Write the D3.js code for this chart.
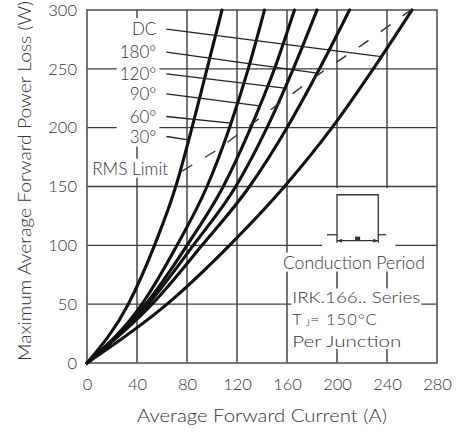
<!DOCTYPE html>
<html>
<head>
<meta charset="utf-8">
<script src="https://cdn.jsdelivr.net/npm/d3@7/dist/d3.min.js"></script>
<style>
  html, body { margin: 0; padding: 0; background: #fff; }
  svg { display: block; font-family: Lato, "DejaVu Sans", sans-serif; font-weight: 300; }
</style>
</head>
<body>
<svg id="chart" width="456" height="433"></svg>
<script>
// Power levels (W) at which the current of each curve is tabulated
const powerLevels = [0, 50, 100, 150, 200, 250, 300];

// Average forward current (A) reaching each power level, per conduction angle
const curveNames = ["30°", "60°", "90°", "120°", "180°", "DC"];
const current30  = [0, 33, 54, 71, 84, 96, 108];
const current60  = [0, 44, 72, 96, 114, 129, 142];
const current90  = [0, 47, 80, 109, 131, 150, 166];
const current120 = [0, 49, 85, 119, 144, 165, 184];
const current180 = [0, 52, 92, 130, 160, 186, 210];
const currentDC  = [0, 64, 114, 158, 196, 229, 260];

// RMS current limit line
const rmsCurrent = [76, 104, 128, 158, 189, 221, 259];
const rmsPower   = [163, 181, 200, 224, 248, 271, 300];

// Curve labels: power level of each label and where its leader meets the curve
const labelPower  = [192.5, 209.5, 228.8, 245.8, 264.2, 283.8];
const leaderEndP  = [189.7, 203.9, 218.6, 233.6, 246.4, 260.4];
const labelCurrent = 55.5;
const leaderStartCurrent = 63.5;

// Axis ticks
const xTicks = [0, 40, 80, 120, 160, 200, 240, 280];
const yTicks = [0, 50, 100, 150, 200, 250, 300];

// Conduction-period pulse (current span and power levels of top, base, dimension line)
const pulseCurrent = [200, 233];
const pulsePower = [143, 109, 104];

const series = [current30, current60, current90, current120, current180, currentDC];

(function draw() {
const svg = d3.select("#chart");
const plot = { left: 87, right: 437, top: 10, bottom: 363 };
const x = d3.scaleLinear().domain([0, 280]).range([plot.left, plot.right]);
const y = d3.scaleLinear().domain([0, 300]).range([plot.bottom, plot.top]);

const gridColor = "#3c3c3c";
const textColor = "#333";
const fontSize = 16.5;

// Grid
const grid = svg.append("g");
grid.selectAll("line.v").data(xTicks.slice(1, -1)).join("line")
  .attr("x1", d => x(d)).attr("x2", d => x(d))
  .attr("y1", y(0)).attr("y2", y(300))
  .attr("stroke", gridColor).attr("stroke-width", 1.4);
grid.selectAll("line.h").data(yTicks.slice(1, -1)).join("line")
  .attr("x1", x(0)).attr("x2", x(280))
  .attr("y1", d => y(d)).attr("y2", d => y(d))
  .attr("stroke", gridColor).attr("stroke-width", 1.4);

// Layer for white backings behind annotation text
const backing = svg.append("g");

// Frame
svg.append("rect")
  .attr("x", x(0)).attr("y", y(300))
  .attr("width", x(280) - x(0)).attr("height", y(0) - y(300))
  .attr("fill", "none").attr("stroke", "#555").attr("stroke-width", 1.6);

// Axes tick labels
const xAxis = d3.axisBottom(x).tickValues(xTicks).tickSize(0).tickPadding(15).tickFormat(d3.format("d"));
const yAxis = d3.axisLeft(y).tickValues(yTicks).tickSize(0).tickPadding(10).tickFormat(d3.format("d"));
const gx = svg.append("g").attr("transform", `translate(0,${plot.bottom})`).call(xAxis);
const gy = svg.append("g").attr("transform", `translate(${plot.left},0)`).call(yAxis);
[gx, gy].forEach(g => {
  g.select(".domain").remove();
  g.selectAll("text").attr("font-family", "Lato, 'DejaVu Sans', sans-serif")
    .attr("font-weight", 300).attr("font-size", fontSize).attr("fill", textColor);
});

// Axis titles
svg.append("text")
  .attr("x", (plot.left + plot.right) / 2).attr("y", 422)
  .attr("text-anchor", "middle").attr("font-size", 18.5).attr("fill", textColor)
  .attr("textLength", 250).attr("lengthAdjust", "spacingAndGlyphs")
  .text("Average Forward Current (A)");
svg.append("text")
  .attr("transform", `translate(31,181) rotate(-90)`)
  .attr("text-anchor", "middle").attr("font-size", 18.5).attr("fill", textColor)
  .attr("textLength", 360).attr("lengthAdjust", "spacingAndGlyphs")
  .text("Maximum Average Forward Power Loss (W)");

// Loss curves
const line = d3.line().x(d => x(d[0])).y(d => y(d[1])).curve(d3.curveMonotoneX);
svg.append("g").selectAll("path").data(series).join("path")
  .attr("d", s => line(s.map((c, i) => [c, powerLevels[i]])))
  .attr("fill", "none").attr("stroke", "#111").attr("stroke-width", 3.1)
  .attr("stroke-linecap", "round");

// RMS limit (dashed)
svg.append("path")
  .attr("d", d3.line().x(d => x(d[0])).y(d => y(d[1]))(rmsCurrent.map((c, i) => [c, rmsPower[i]])))
  .attr("fill", "none").attr("stroke", "#333").attr("stroke-width", 1.4)
  .attr("stroke-dasharray", "12,15");

// Curve labels and leaders
const labelG = svg.append("g");
const labels = labelG.selectAll("text").data(curveNames).join("text")
  .attr("x", x(labelCurrent)).attr("y", (d, i) => y(labelPower[i]))
  .attr("dy", "0.36em").attr("text-anchor", "end")
  .attr("font-size", 17).attr("fill", textColor)
  .text(d => d);
labelG.selectAll("line").data(series).join("line")
  .attr("x1", x(leaderStartCurrent)).attr("y1", (s, i) => y(labelPower[i]))
  .attr("x2", (s, i) => x(d3.scaleLinear().domain(powerLevels).range(s)(leaderEndP[i])))
  .attr("y2", (s, i) => y(leaderEndP[i]))
  .attr("stroke", "#222").attr("stroke-width", 1.3);

// RMS limit label
const rmsLabel = svg.append("text")
  .attr("x", x(34.5)).attr("y", y(160))
  .attr("text-anchor", "middle").attr("font-size", 17).attr("fill", textColor)
  .attr("textLength", 76).attr("lengthAdjust", "spacingAndGlyphs")
  .text("RMS Limit");

// Conduction period pulse symbol
const sym = svg.append("g").attr("stroke", "#333").attr("stroke-width", 1.3).attr("fill", "none");
const [p0, p1] = pulseCurrent.map(x);
const [pTop, pBase, pDim] = pulsePower.map(y);
sym.append("path").attr("d", `M${p0},${pDim + 2}V${pTop}H${p1}V${pDim + 2}`);
sym.append("line").attr("x1", p0 - 10).attr("x2", p0).attr("y1", pBase).attr("y2", pBase);
sym.append("line").attr("x1", p1).attr("x2", p1 + 8).attr("y1", pBase).attr("y2", pBase);
sym.append("line").attr("x1", p0).attr("x2", p1).attr("y1", pDim).attr("y2", pDim);
sym.append("path").attr("fill", "#333").attr("stroke", "none")
  .attr("d", `M${p0},${pDim}l5,-2v4z M${p1},${pDim}l-5,-2v4z`);
sym.append("rect").attr("x", (p0 + p1) / 2 - 2.5).attr("y", pDim - 4).attr("width", 5).attr("height", 4)
  .attr("fill", "#333").attr("stroke", "none");

const condText = svg.append("text")
  .attr("x", x(213.5)).attr("y", 268.5)
  .attr("text-anchor", "middle").attr("font-size", 17).attr("fill", textColor)
  .attr("textLength", 142).attr("lengthAdjust", "spacingAndGlyphs")
  .text("Conduction Period");

// Device info block
const info = svg.append("g").attr("font-size", 16.5).attr("fill", textColor);
const infoX = x(163) + 1.5;
info.append("text").attr("x", infoX).attr("y", 302.5)
  .attr("textLength", 128).attr("lengthAdjust", "spacingAndGlyphs")
  .text("IRK.166.. Series");
const tj = info.append("text").attr("x", infoX).attr("y", 325);
tj.append("tspan").text("T");
tj.append("tspan").attr("dx", 4).attr("dy", 1).attr("font-size", 10).text("J");
tj.append("tspan").attr("dy", -1).attr("letter-spacing", 1).text("= 150°C");
info.append("text").attr("x", infoX).attr("y", 347)
  .attr("textLength", 109).attr("lengthAdjust", "spacingAndGlyphs")
  .text("Per Junction");

// White backings sized from rendered text
function pad(b, px, py) { return { x: b.x - px, y: b.y - py, w: b.width + 2 * px, h: b.height + 2 * py }; }
function union(nodes) {
  const bs = nodes.map(n => n.getBBox());
  const x0 = d3.min(bs, b => b.x), y0 = d3.min(bs, b => b.y);
  const x1 = d3.max(bs, b => b.x + b.width), y1 = d3.max(bs, b => b.y + b.height);
  return { x: x0, y: y0, width: x1 - x0, height: y1 - y0 };
}
const backs = [
  pad(union(labels.nodes()), 3, 0),
  pad(rmsLabel.node().getBBox(), 2, -1),
  pad(condText.node().getBBox(), 2, -1),
  pad(union(info.selectAll("text").nodes()), 1, -2),
  { x: p0 - 15, y: y(150) + 1.5, w: (p1 + 17) - (p0 - 15), h: y(100) + 7 - y(150) }
];
backing.selectAll("rect").data(backs).join("rect")
  .attr("x", d => d.x).attr("y", d => d.y).attr("width", d => d.w).attr("height", d => d.h)
  .attr("fill", "#fff");
})();
</script>
</body>
</html>
